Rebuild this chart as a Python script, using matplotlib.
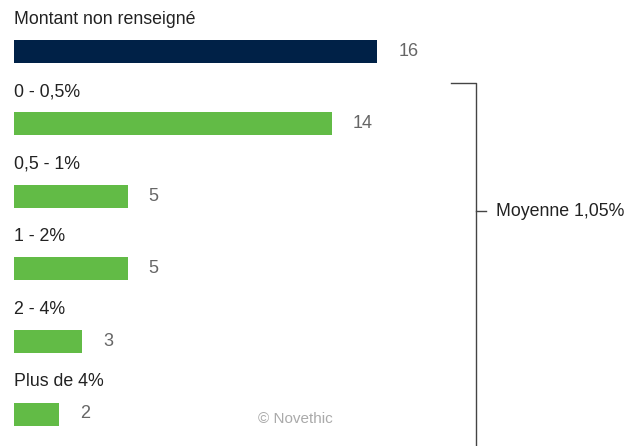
import matplotlib
matplotlib.use("Agg")
import matplotlib.pyplot as plt
from matplotlib import font_manager

categories = ["Montant non renseigné", "0 - 0,5%", "0,5 - 1%", "1 - 2%", "2 - 4%", "Plus de 4%"]
values = [16, 14, 5, 5, 3, 2]
bar_colors = ["#002147", "#62bb46", "#62bb46", "#62bb46", "#62bb46", "#62bb46"]
bracket_label = "Moyenne 1,05%"
credit = "© Novethic"

names = {f.name for f in font_manager.fontManager.ttflist}
family = ["Liberation Sans Narrow", "DejaVu Sans"] if "Liberation Sans Narrow" in names else ["Liberation Sans", "DejaVu Sans"]
plt.rcParams["font.family"] = family

W, H = 640, 446
px_unit = 22.7      # pixels per unit on x
px_row = 72.6       # pixels between rows
x_left, y_first = 14, 51

fig = plt.figure(figsize=(W / 100, H / 100), dpi=100)
ax = fig.add_axes([0, 0, 1, 1])
ax.set_xlim(-x_left / px_unit, (W - x_left) / px_unit)
ax.set_ylim((H - y_first) / px_row, -y_first / px_row)
ax.axis("off")

rows = range(len(categories))
ax.barh(list(rows), values, height=23 / px_row, color=bar_colors, left=0)

for i, (cat, v) in enumerate(zip(categories, values)):
    ax.text(0, i - 32 / px_row, cat, fontsize=12.8, color="#222222", va="center", ha="left")
    ax.text(v + 21 / px_unit, i, str(v), fontsize=13, color="#666666", va="center", ha="left")

# accolade "Moyenne" sur les tranches renseignées
bx = (476 - x_left) / px_unit
top = 1 - 41 / px_row
bottom = (H - y_first) / px_row
mid = (211 - y_first) / px_row
ax.plot([bx - 25 / px_unit, bx, bx], [top, top, bottom], color="#444444", lw=1, clip_on=False)
ax.plot([bx, bx + 10 / px_unit], [mid, mid], color="#444444", lw=1)
ax.text(bx + 20 / px_unit, mid, bracket_label, fontsize=12.8, color="#222222", va="center", ha="left")

ax.text((295 - x_left) / px_unit, (419 - y_first) / px_row, credit, fontsize=11,
        color="#aaaaaa", va="center", ha="center")

fig.savefig("out.png", dpi=100)
